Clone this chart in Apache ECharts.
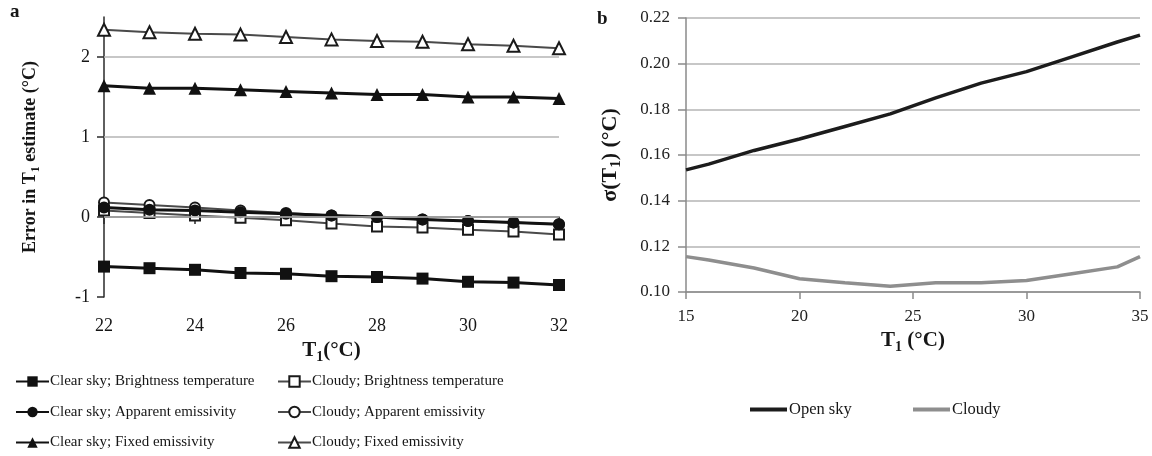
<!DOCTYPE html>
<html>
<head>
<meta charset="utf-8">
<script src="https://cdn.jsdelivr.net/npm/echarts@6/dist/echarts.min.js"></script>
<style>
  html, body { margin: 0; padding: 0; background: #fff; }
  #chart { width: 1152px; height: 456px; }
</style>
</head>
<body>
<div id="chart"></div>
<script>
// Panel a: error in T1 estimate for each method (°C)
const tempA = [22, 23, 24, 25, 26, 27, 28, 29, 30, 31, 32];
const clearBright    = [-0.62, -0.64, -0.66, -0.70, -0.71, -0.74, -0.75, -0.77, -0.81, -0.82, -0.85];
const cloudyBright   = [0.08, 0.05, 0.02, -0.01, -0.04, -0.08, -0.12, -0.13, -0.16, -0.18, -0.22];
const clearApparent  = [0.12, 0.09, 0.08, 0.06, 0.04, 0.02, 0.00, -0.03, -0.05, -0.07, -0.09];
const cloudyApparent = [0.18, 0.15, 0.12, 0.08, 0.05, 0.02, 0.00, -0.03, -0.05, -0.07, -0.09];
const clearFixed     = [1.64, 1.61, 1.61, 1.59, 1.57, 1.55, 1.53, 1.53, 1.50, 1.50, 1.48];
const cloudyFixed    = [2.34, 2.31, 2.29, 2.28, 2.25, 2.22, 2.20, 2.19, 2.16, 2.14, 2.11];
const ticksA = [-1, 0, 1, 2];
const gridLinesA = [0, 1, 2];

// Panel b: standard deviation of T1 (°C)
const tempB = [15, 16, 18, 20, 22, 24, 26, 28, 30, 32, 34, 35];
const openSky  = [0.1535, 0.156, 0.162, 0.167, 0.1725, 0.178, 0.185, 0.1915, 0.1965, 0.203, 0.2095, 0.2125];
const cloudySd = [0.1155, 0.114, 0.1105, 0.1058, 0.104, 0.1025, 0.104, 0.104, 0.105, 0.108, 0.111, 0.1155];

const FONT = 'Liberation Serif';
const INK = '#161616';

const pairs = (xs, ys) => xs.map((x, i) => [x, ys[i]]);

// rich text styles for titles with a subscript "1"
const titleRich = (size) => ({
  n: { fontFamily: FONT, fontSize: size, fontWeight: 'bold', color: INK, lineHeight: size + 6, verticalAlign: 'middle' },
  s: { fontFamily: FONT, fontSize: Math.round(size * 0.68), fontWeight: 'bold', color: INK, lineHeight: Math.round(size * 0.68), verticalAlign: 'bottom' }
});

const clearStyle = (symbol) => ({
  type: 'line', xAxisIndex: 0, yAxisIndex: 0, z: 4,
  symbol: symbol, symbolSize: 12, showSymbol: true,
  lineStyle: { color: '#111', width: 3 },
  itemStyle: { color: '#111' }
});
const cloudyStyle = (symbol) => ({
  type: 'line', xAxisIndex: 0, yAxisIndex: 0, z: 3,
  symbol: symbol, symbolSize: 10, showSymbol: true,
  lineStyle: { color: '#4a4a4a', width: 2 },
  itemStyle: { color: '#1a1a1a', borderWidth: 1.6 }
});

const namesCol1 = ['Clear sky; Brightness temperature', 'Clear sky; Apparent emissivity', 'Clear sky; Fixed emissivity'];
const namesCol2 = ['Cloudy; Brightness temperature', 'Cloudy; Apparent emissivity', 'Cloudy; Fixed emissivity'];

const legendA = (left, names) => ({
  orient: 'vertical', left: left, top: 374, height: 82, padding: 0,
  itemWidth: 33, itemHeight: 13, itemGap: 15.5,
  selectedMode: false,
  textStyle: { fontFamily: FONT, fontSize: 15, color: INK, padding: [0, 0, 0, -4] },
  data: names
});

const legendB = (left, name) => ({
  left: left, top: 401, padding: 0, itemWidth: 37, itemHeight: 4, selectedMode: false,
  textStyle: { fontFamily: FONT, fontSize: 16.5, color: INK, padding: [0, 0, 0, -3] },
  data: [{ name: name, icon: 'rect' }]
});

const option = {
  backgroundColor: '#fff',
  animation: false,
  graphic: [
    { type: 'text', left: 10, top: 3, style: { text: 'a', fontFamily: FONT, fontWeight: 'bold', fontSize: 19, fill: INK } },
    { type: 'text', left: 597, top: 10, style: { text: 'b', fontFamily: FONT, fontWeight: 'bold', fontSize: 19, fill: INK } }
  ],
  grid: [
    { left: 104, right: 593, top: 17, bottom: 159 },
    { left: 686, right: 12, top: 18, bottom: 164 }
  ],
  legend: [
    legendA(15, namesCol1),
    legendA(277, namesCol2),
    legendB(750, 'Open sky'),
    legendB(913, 'Cloudy')
  ],
  xAxis: [
    {
      gridIndex: 0, type: 'value', min: 22, max: 32, interval: 2,
      name: '{n|T}{s|1}{n|(°C)}', nameLocation: 'middle', nameGap: 32,
      nameTextStyle: { rich: titleRich(21) },
      axisLine: { lineStyle: { color: '#2a2a2a', width: 1.5 } },
      axisTick: { length: 7, lineStyle: { color: '#2a2a2a', width: 1.5 } },
      axisLabel: { fontFamily: FONT, fontSize: 18, color: INK, margin: 20 },
      splitLine: { show: false }
    },
    {
      gridIndex: 1, type: 'value', min: 15, max: 35, interval: 5,
      name: '{n|T}{s|1}{n| (°C)}', nameLocation: 'middle', nameGap: 32,
      nameTextStyle: { rich: titleRich(21) },
      axisLine: { lineStyle: { color: '#8a8a8a', width: 1.5 } },
      axisTick: { length: 7, lineStyle: { color: '#8a8a8a', width: 1.5 } },
      axisLabel: { fontFamily: FONT, fontSize: 17, color: '#222', margin: 16 },
      splitLine: { show: false }
    }
  ],
  yAxis: [
    {
      gridIndex: 0, type: 'value', min: -1, max: 2.5, interval: 1,
      name: '{n|Error in T}{s|1}{n| estimate (°C)}', nameLocation: 'middle', nameGap: 62, nameRotate: 90,
      nameTextStyle: { rich: titleRich(18) },
      axisLine: { show: true, lineStyle: { color: '#2a2a2a', width: 1.5 } },
      axisTick: { show: true, length: 7, customValues: ticksA, lineStyle: { color: '#2a2a2a', width: 1.5 } },
      axisLabel: { fontFamily: FONT, fontSize: 18, color: INK, margin: 14, customValues: ticksA },
      splitLine: { show: false }
    },
    {
      gridIndex: 1, type: 'value', min: 0.10, max: 0.22, interval: 0.02,
      name: '{n|σ(T}{s|1}{n|) (°C)}', nameLocation: 'middle', nameGap: 62, nameRotate: 90,
      nameTextStyle: { rich: titleRich(22) },
      axisLine: { show: true, lineStyle: { color: '#8a8a8a', width: 1.5 } },
      axisTick: { show: true, length: 8, lineStyle: { color: '#8a8a8a', width: 1.5 } },
      axisLabel: { fontFamily: FONT, fontSize: 17, color: '#222', margin: 16, formatter: (v) => v.toFixed(2) },
      splitLine: { show: true, lineStyle: { color: '#b4b4b4', width: 1.5 } }
    }
  ],
  series: [
    // horizontal reference lines for panel a
    {
      name: 'gridA', type: 'line', xAxisIndex: 0, yAxisIndex: 0, z: 1,
      data: [], silent: true, symbol: 'none',
      markLine: {
        silent: true, symbol: ['none', 'none'], label: { show: false },
        lineStyle: { color: '#b4b4b4', width: 1.5, type: 'solid' },
        data: gridLinesA.map(v => ({ yAxis: v }))
      }
    },
    Object.assign(cloudyStyle('emptyRect'), { name: namesCol2[0], data: pairs(tempA, cloudyBright) }),
    Object.assign(cloudyStyle('emptyCircle'), { name: namesCol2[1], data: pairs(tempA, cloudyApparent) }),
    Object.assign(cloudyStyle('emptyTriangle'), { name: namesCol2[2], data: pairs(tempA, cloudyFixed), symbolSize: 12 }),
    Object.assign(clearStyle('rect'), { name: namesCol1[0], data: pairs(tempA, clearBright) }),
    Object.assign(clearStyle('circle'), { name: namesCol1[1], data: pairs(tempA, clearApparent) }),
    Object.assign(clearStyle('triangle'), { name: namesCol1[2], data: pairs(tempA, clearFixed), symbolSize: 13 }),
    {
      name: 'Open sky', type: 'line', xAxisIndex: 1, yAxisIndex: 1, symbol: 'none',
      lineStyle: { color: '#1c1c1c', width: 3.5 }, itemStyle: { color: '#1c1c1c' },
      data: pairs(tempB, openSky)
    },
    {
      name: 'Cloudy', type: 'line', xAxisIndex: 1, yAxisIndex: 1, symbol: 'none',
      lineStyle: { color: '#8e8e8e', width: 3.5 }, itemStyle: { color: '#8e8e8e' },
      data: pairs(tempB, cloudySd)
    }
  ]
};

echarts.init(document.getElementById('chart'), null, { renderer: 'canvas' }).setOption(option);
</script>
</body>
</html>
